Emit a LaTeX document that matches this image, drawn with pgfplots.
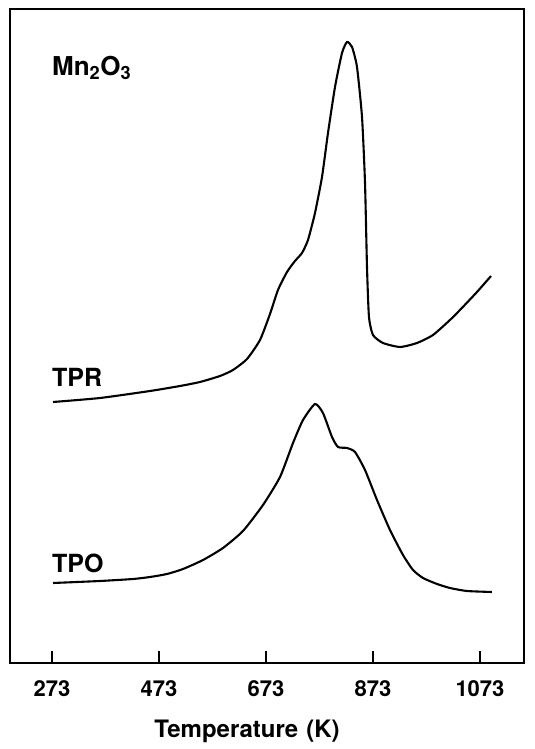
\documentclass[border=0pt]{standalone}
\usepackage{fontspec}
\setmainfont{TeX Gyre Heros}
\usepackage{pgfplots}
\pgfplotsset{compat=1.18}
\begin{document}
\begin{tikzpicture}
\begin{axis}[
  scale only axis,
  width=514pt, height=654pt,
  xmin=194.5, xmax=1155.3,
  ymin=0, ymax=654,
  axis line style={line width=1.6pt},
  xtick={273,473,673,873,1073},
  xtick pos=bottom,
  tick align=inside,
  major tick length=12pt,
  every tick/.style={line width=1.4pt, black},
  ytick=\empty,
  /pgf/number format/assume math mode=true,
  /pgf/number format/set thousands separator={},
  xticklabel style={font=\fontsize{22}{24}\selectfont\bfseries, yshift=-14pt},
  xlabel={Temperature\,\,(K)},
  every axis x label/.style={at={(axis description cs:0.461,0)}, anchor=center, yshift=-68pt, font=\fontsize{24}{28}\selectfont\bfseries},
  clip=false,
]
\addplot[black, line width=2.1pt, smooth, tension=0.35] coordinates {
(274.9,261) (362.7,265) (456.2,272) (512.3,277) (549.6,281) (587.0,287)
(611.3,293) (637.5,304) (661.8,323) (680.5,349) (695.4,373) (712.3,391)
(727.2,402) (740.3,410) (751.5,423) (764.6,450) (777.7,486) (788.9,530)
(802.0,576) (815.1,610) (824.4,621) (833.8,616) (843.1,596) (852.5,546)
(858.1,480) (861.8,396) (865.5,346) (873.0,328) (891.7,320) (923.5,316)
(955.3,320) (985.2,328) (1016.9,343) (1035.6,353) (1067.4,371) (1093.6,387)
};
\addplot[black, line width=2.1pt, smooth, tension=0.35] coordinates {
(274.9,80) (362.7,82) (424.4,84) (456.2,86) (488.0,89) (517.9,94)
(555.3,103) (592.6,115) (630.0,132) (667.4,158) (699.2,186)
(723.5,220) (742.2,243) (764.6,259) (779.5,250) (796.4,226) (807.6,216)
(824.4,215) (839.4,211) (858.1,193) (880.5,163) (904.8,133) (929.1,108)
(947.8,93) (966.5,85) (992.7,79) (1016.9,75) (1048.6,72) (1095.4,71)
};
\node[anchor=west, inner sep=0pt, font=\fontsize{26}{28}\selectfont\bfseries] at (rel axis cs:0.0817,0.910) {Mn\textsubscript{2}O\textsubscript{3}};
\node[anchor=west, inner sep=0pt, font=\fontsize{25}{28}\selectfont\bfseries] at (rel axis cs:0.0817,0.437) {TPR};
\node[anchor=west, inner sep=0pt, font=\fontsize{25}{28}\selectfont\bfseries] at (rel axis cs:0.0817,0.153) {TPO};
\coordinate (sw) at (rel axis cs:0,0);
\coordinate (ne) at (rel axis cs:1,1);
\end{axis}
\pgfresetboundingbox
\path[use as bounding box] ([shift={(-10pt,-86pt)}]sw) rectangle ([shift={(10pt,9pt)}]ne);
\end{tikzpicture}
\end{document}
